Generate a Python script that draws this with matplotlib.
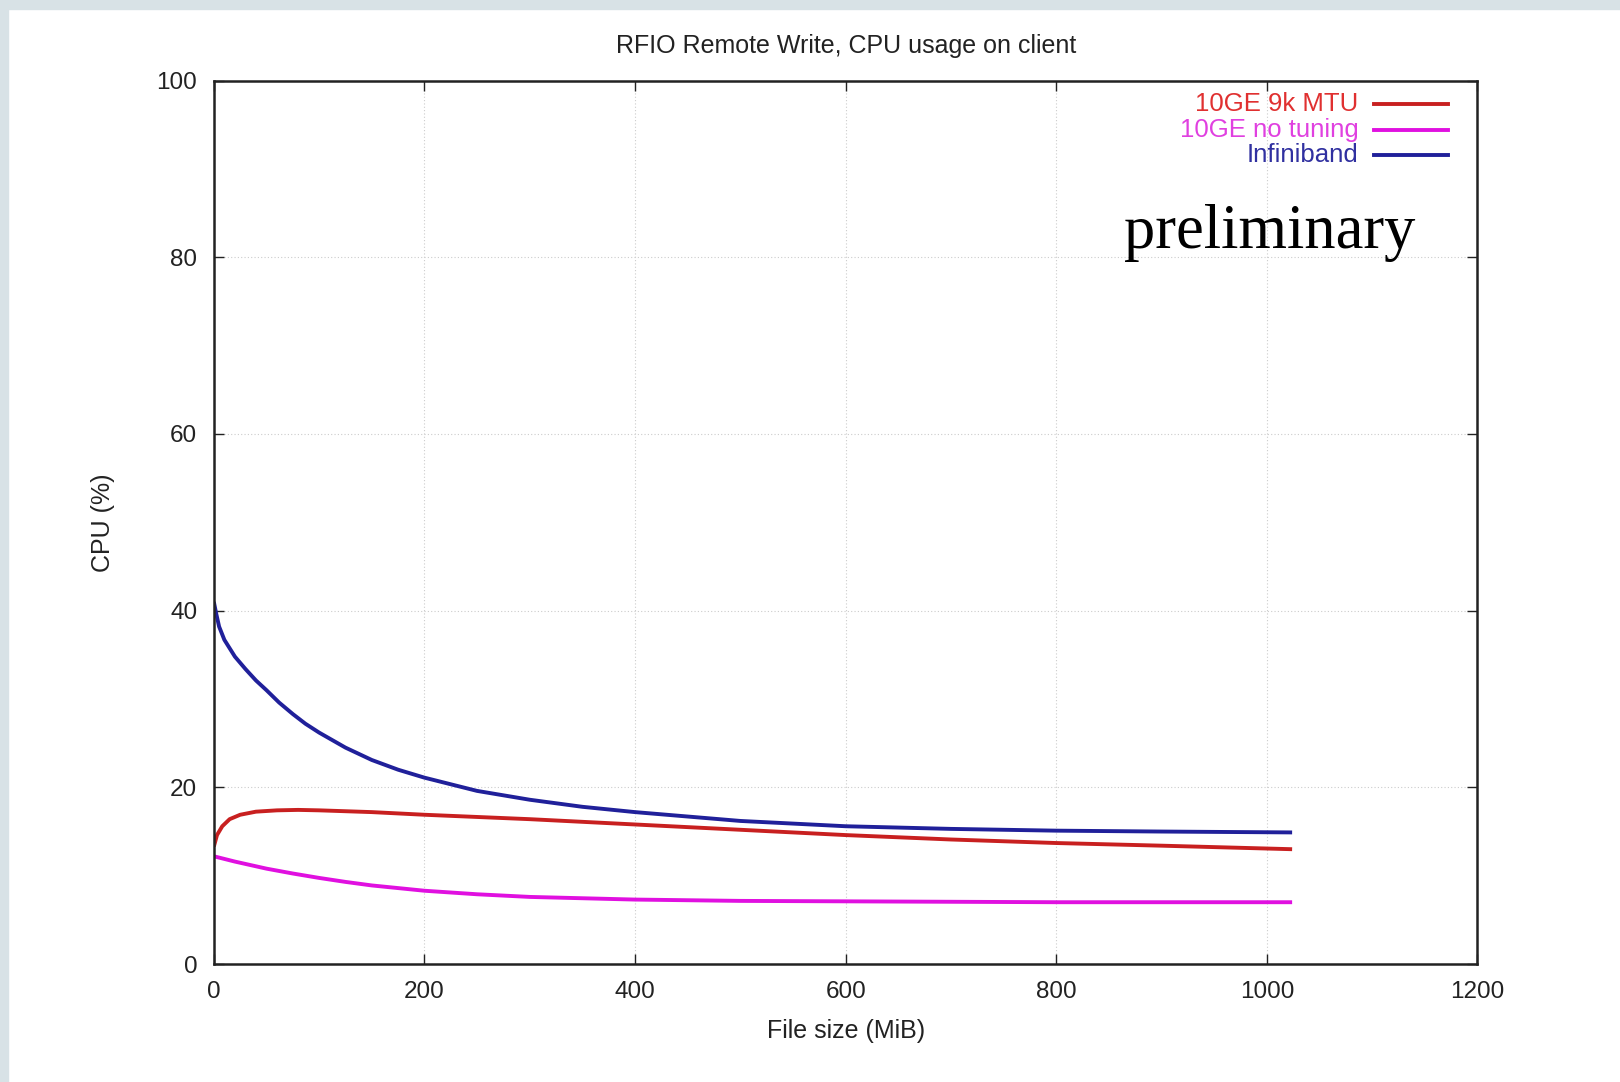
import matplotlib
matplotlib.use("Agg")
import matplotlib.pyplot as plt
from matplotlib.patches import Rectangle

# values
ib_x = [0, 2, 5, 10, 20, 30, 40, 50, 62, 75, 87, 100, 125, 150, 175, 200, 250, 300, 350, 400, 500, 600, 700, 800, 900, 1024]
ib_y = [41, 39.8, 38.2, 36.7, 34.8, 33.4, 32.1, 31.0, 29.6, 28.3, 27.2, 26.2, 24.5, 23.1, 22.0, 21.1, 19.6, 18.6, 17.8, 17.2, 16.2, 15.6, 15.3, 15.1, 15.0, 14.9]

mtu_x = [0, 3, 8, 15, 25, 40, 60, 80, 100, 150, 200, 300, 400, 500, 600, 700, 800, 900, 1024]
mtu_y = [13.3, 14.6, 15.6, 16.4, 16.9, 17.25, 17.4, 17.45, 17.4, 17.2, 16.9, 16.4, 15.8, 15.2, 14.6, 14.1, 13.7, 13.4, 13.0]

notune_x = [0, 20, 50, 75, 100, 125, 150, 175, 200, 250, 300, 400, 500, 600, 800, 1024]
notune_y = [12.2, 11.6, 10.8, 10.25, 9.75, 9.3, 8.9, 8.6, 8.3, 7.9, 7.6, 7.3, 7.15, 7.1, 7.0, 7.0]

labels = ["10GE 9k MTU", "10GE no tuning", "Infiniband"]
line_colors = ["#c82020", "#e010e0", "#20209a"]
text_colors = ["#e03030", "#e040e0", "#3030a0"]
x_ticks = [0, 200, 400, 600, 800, 1000, 1200]
y_ticks = [0, 20, 40, 60, 80, 100]

plt.rcParams["font.family"] = ["Liberation Sans", "DejaVu Sans"]

fig = plt.figure(figsize=(16.2, 10.82), dpi=100)
fig.patch.set_facecolor("white")
# faint slide background strips at the edges
fig.patches.append(Rectangle((0, 0), 0.005, 1, transform=fig.transFigure, color="#d8e2e6", zorder=0))
fig.patches.append(Rectangle((0, 0.992), 1, 0.008, transform=fig.transFigure, color="#d8e2e6", zorder=0))

ax = fig.add_axes([0.132, 0.109, 0.78, 0.8165])

series = [(mtu_x, mtu_y), (notune_x, notune_y), (ib_x, ib_y)]
for (xs, ys), c in zip(series, line_colors):
    ax.plot(xs, ys, color=c, lw=2.8, solid_capstyle="butt", solid_joinstyle="round")

ax.set_xlim(0, 1200)
ax.set_ylim(0, 100)
ax.set_xticks(x_ticks)
ax.set_yticks(y_ticks)
ax.tick_params(direction="in", top=True, right=True, length=7, width=1,
               labelsize=17.5, colors="#222222")
ax.tick_params(axis="x", pad=12)
ax.tick_params(axis="y", pad=12)
for s in ax.spines.values():
    s.set_linewidth(1.8)
    s.set_color("#222222")
ax.grid(True, color="#cccccc", lw=0.8, ls=(0, (1, 2)))

ax.set_title("RFIO Remote Write, CPU usage on client", fontsize=18, pad=20, color="#222222")
ax.set_xlabel("File size (MiB)", fontsize=18, labelpad=12, color="#222222")
ax.set_ylabel("CPU (%)", fontsize=18, labelpad=30, color="#222222")

# gnuplot style key: right-aligned text, sample line to the right
key_y = [0.974, 0.944, 0.916]
for lab, lc, tc, yy in zip(labels, line_colors, text_colors, key_y):
    ax.text(0.906, yy, lab, transform=ax.transAxes, ha="right", va="center",
            fontsize=18.5, color=tc)
    ax.plot([0.918, 0.977], [yy, yy], transform=ax.transAxes, color=lc, lw=2.8)

ax.text(0.720, 0.811, "preliminary", transform=ax.transAxes, fontsize=45,
        family="Liberation Serif", color="black", va="baseline")

fig.savefig("out.png", dpi=100)
